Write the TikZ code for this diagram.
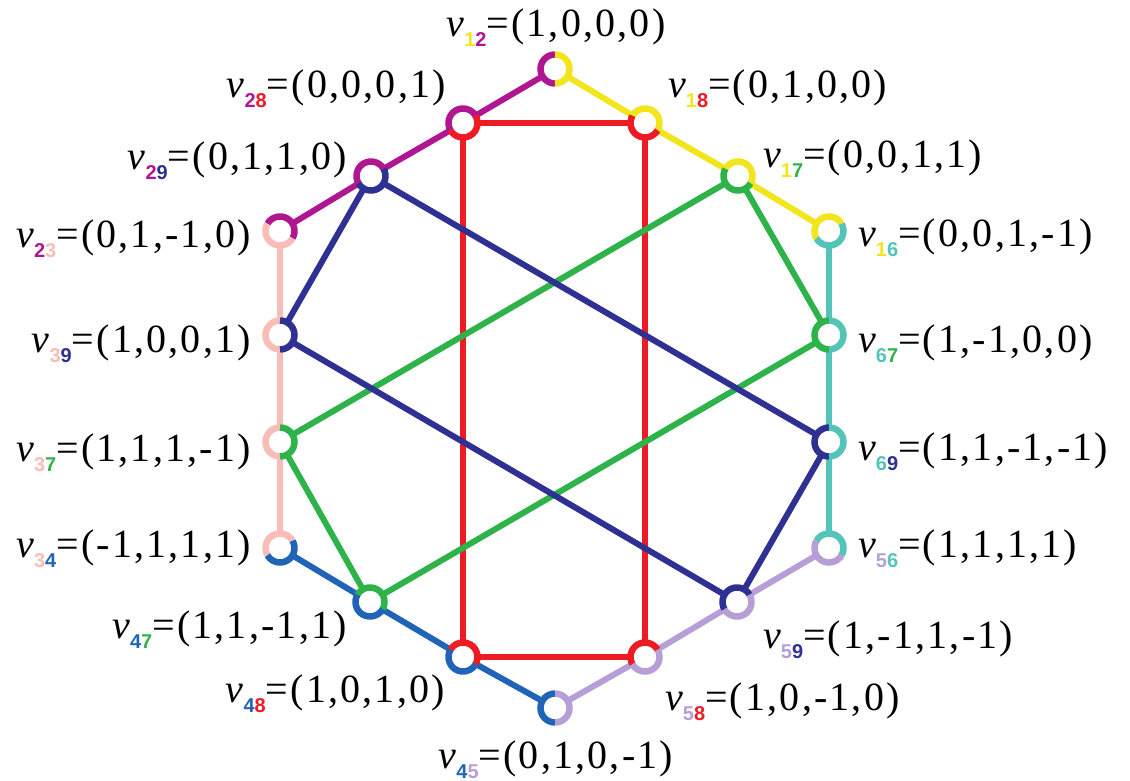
\documentclass[tikz,border=0pt]{standalone}
\usepackage{fontspec}
\setmainfont{Liberation Serif}
\newfontfamily\labfont[LetterSpace=5.5]{Liberation Serif}
\newfontfamily\subfont{Liberation Sans}
\usepackage{tikz}
\usetikzlibrary{calc}
% one colour for each index 1..9
\definecolor{cls1}{HTML}{F2E51B}
\definecolor{cls2}{HTML}{B0168F}
\definecolor{cls3}{HTML}{F8BDB6}
\definecolor{cls4}{HTML}{1F64B6}
\definecolor{cls5}{HTML}{B69ED6}
\definecolor{cls6}{HTML}{52C5B8}
\definecolor{cls7}{HTML}{2EB34A}
\definecolor{cls8}{HTML}{ED1C24}
\definecolor{cls9}{HTML}{2E3192}

\newcommand{\vsub}[2]{{\itshape v}\raisebox{-10pt}{\fontsize{20}{20}\subfont\bfseries\textcolor{cls#1}{#1}\textcolor{cls#2}{#2}}}
\newcommand{\vring}[4]{%
    \fill[white] (#1) circle (14.5);
    \draw[ring, #3] ([shift={(#2:14.5)}]#1.center) arc[start angle=#2, delta angle=180, radius=14.5];
    \draw[ring, #4] ([shift={(#2+180:14.5)}]#1.center) arc[start angle=#2+180, delta angle=180, radius=14.5];
}

\begin{document}
\begin{tikzpicture}[x=1pt, y=1pt,
    vtx/.style={circle, minimum size=29pt, inner sep=0pt},
    edge/.style={line width=6pt},
    ring/.style={line width=6.5pt},
    lab/.style={inner sep=0pt, font=\labfont\fontsize{40}{44}\selectfont}]
    \useasboundingbox (0, 0) rectangle (1130, 780);

    \node[vtx] (v12) at (555, 711) {};
    \node[vtx] (v28) at (463, 657) {};
    \node[vtx] (v18) at (645, 657) {};
    \node[vtx] (v29) at (371, 604) {};
    \node[vtx] (v17) at (738, 604) {};
    \node[vtx] (v23) at (280, 549) {};
    \node[vtx] (v16) at (829, 549) {};
    \node[vtx] (v39) at (280, 445) {};
    \node[vtx] (v67) at (829, 445) {};
    \node[vtx] (v37) at (280, 338) {};
    \node[vtx] (v69) at (829, 338) {};
    \node[vtx] (v34) at (280, 232) {};
    \node[vtx] (v56) at (829, 232) {};
    \node[vtx] (v47) at (370, 178) {};
    \node[vtx] (v59) at (737, 178) {};
    \node[vtx] (v48) at (463, 123) {};
    \node[vtx] (v58) at (645, 123) {};
    \node[vtx] (v45) at (555, 72) {};

    % outer cycle
    \draw[edge, cls2] (v12) -- (v28) -- (v29) -- (v23);
    \draw[edge, cls1] (v12) -- (v18) -- (v17) -- (v16);
    \draw[edge, cls6] (v16) -- (v67) -- (v69) -- (v56);
    \draw[edge, cls5] (v56) -- (v59) -- (v58) -- (v45);
    \draw[edge, cls4] (v45) -- (v48) -- (v47) -- (v34);
    \draw[edge, cls3] (v34) -- (v37) -- (v39) -- (v23);

    % inner edges
    \draw[edge, cls8] (v28) -- (v18) -- (v58) -- (v48) -- (v28);
    \draw[edge, cls7] (v17) -- (v67) (v17) -- (v37) (v67) -- (v47) (v37) -- (v47);
    \draw[edge, cls9] (v29) -- (v39) (v29) -- (v69) (v39) -- (v59) (v69) -- (v59);

    \vring{v12}{90}{cls2}{cls1}
    \vring{v18}{-30}{cls1}{cls8}
    \vring{v28}{30}{cls2}{cls8}
    \vring{v29}{30}{cls2}{cls9}
    \vring{v17}{-30}{cls1}{cls7}
    \vring{v23}{-30}{cls2}{cls3}
    \vring{v16}{30}{cls1}{cls6}
    \vring{v39}{90}{cls3}{cls9}
    \vring{v67}{90}{cls7}{cls6}
    \vring{v37}{90}{cls3}{cls7}
    \vring{v69}{90}{cls9}{cls6}
    \vring{v34}{30}{cls3}{cls4}
    \vring{v56}{-30}{cls6}{cls5}
    \vring{v47}{-30}{cls7}{cls4}
    \vring{v59}{30}{cls9}{cls5}
    \vring{v48}{-30}{cls8}{cls4}
    \vring{v58}{30}{cls8}{cls5}
    \vring{v45}{90}{cls4}{cls5}

    % labels
    \node[lab, anchor=base] (l12) at (556, 743) {\vsub12=(1,0,0,0)};
    \node[lab, anchor=base east] (l28) at (446, 682) {\vsub28=(0,0,0,1)};
    \node[lab, anchor=base west] (l18) at (668, 682) {\vsub18=(0,1,0,0)};
    \node[lab, anchor=base east] (l29) at (347, 610) {\vsub29=(0,1,1,0)};
    \node[lab, anchor=base west] (l17) at (763, 612) {\vsub17=(0,0,1,1)};
    \node[lab, anchor=base east] (l23) at (251, 532) {\vsub23=(0,1,-1,0)};
    \node[lab, anchor=base west] (l16) at (858, 533) {\vsub16=(0,0,1,-1)};
    \node[lab, anchor=base east] (l39) at (251, 427) {\vsub39=(1,0,0,1)};
    \node[lab, anchor=base west] (l67) at (858, 427) {\vsub67=(1,-1,0,0)};
    \node[lab, anchor=base east] (l37) at (251, 318) {\vsub37=(1,1,1,-1)};
    \node[lab, anchor=base west] (l69) at (858, 319) {\vsub69=(1,1,-1,-1)};
    \node[lab, anchor=base east] (l34) at (251, 223) {\vsub34=(-1,1,1,1)};
    \node[lab, anchor=base west] (l56) at (858, 223) {\vsub56=(1,1,1,1)};
    \node[lab, anchor=base east] (l47) at (347, 142) {\vsub47=(1,1,-1,1)};
    \node[lab, anchor=base west] (l59) at (763, 132) {\vsub59=(1,-1,1,-1)};
    \node[lab, anchor=base east] (l48) at (445, 78) {\vsub48=(1,0,1,0)};
    \node[lab, anchor=base west] (l58) at (665, 70) {\vsub58=(1,0,-1,0)};
    \node[lab, anchor=base] (l45) at (556, 12) {\vsub45=(0,1,0,-1)};
\end{tikzpicture}
\end{document}
